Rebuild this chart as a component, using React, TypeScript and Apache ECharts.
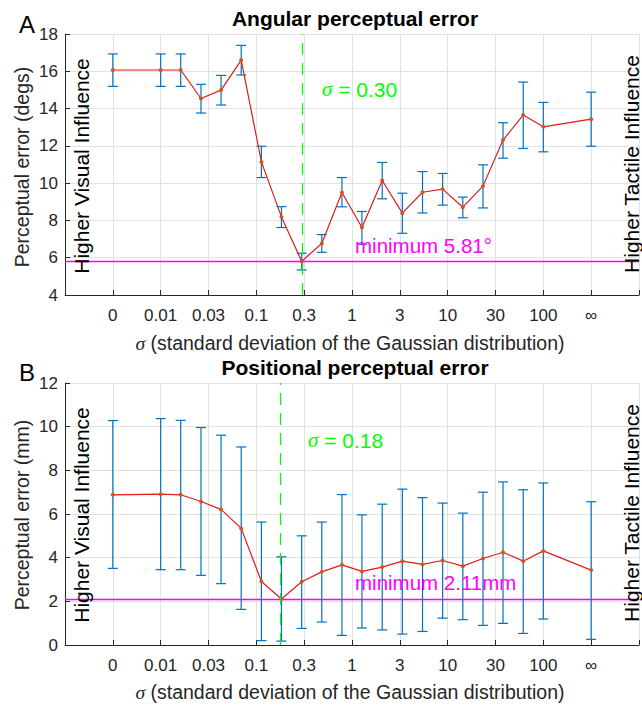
import React, { useEffect, useRef } from "react";
import * as echarts from "echarts";

// ---- data ----
const TICK_LABELS = ["0", "0.01", "0.03", "0.1", "0.3", "1", "3", "10", "30", "100", "∞"];
const SIGMAS = [0, 0.01, 0.0162, 0.0264, 0.0428, 0.0695, 0.113, 0.183, 0.298, 0.483, 0.785, 1.27, 2.07, 3.36, 5.46, 8.86, 14.4, 23.4, 37.9, 61.6, 100, Infinity];

const ANG_MEAN = [16.07, 16.07, 16.07, 14.54, 14.99, 16.6, 11.14, 8.19, 5.81, 6.76, 9.5, 7.62, 10.14, 8.39, 9.51, 9.68, 8.71, 9.84, 12.31, 13.65, 13.02, 13.43];
const ANG_HIGH = [16.93, 16.93, 16.93, 15.3, 15.78, 17.39, 11.98, 8.74, 6.24, 7.24, 10.3, 8.48, 11.11, 9.46, 10.62, 10.52, 9.25, 10.98, 13.24, 15.42, 14.33, 14.88];
const ANG_LOW = [15.19, 15.19, 15.19, 13.76, 14.19, 15.8, 10.3, 7.62, 5.34, 6.29, 8.73, 6.72, 9.16, 7.31, 8.4, 8.82, 8.14, 8.67, 11.34, 11.86, 11.68, 11.98];
const ANG_BEST_SIGMA = 0.3;
const ANG_MIN = 5.81;

const POS_MEAN = [6.88, 6.91, 6.88, 6.57, 6.21, 5.34, 2.91, 2.11, 2.9, 3.35, 3.67, 3.37, 3.57, 3.84, 3.69, 3.87, 3.61, 3.96, 4.25, 3.84, 4.31, 3.43];
const POS_HIGH = [10.28, 10.37, 10.29, 9.96, 9.61, 9.07, 5.63, 4.04, 5.0, 5.63, 6.89, 5.96, 6.45, 7.14, 6.75, 6.5, 6.04, 7.0, 7.47, 7.11, 7.42, 6.56];
const POS_LOW = [3.51, 3.45, 3.45, 3.19, 2.81, 1.63, 0.2, 0.18, 0.76, 1.05, 0.44, 0.78, 0.69, 0.5, 0.62, 1.23, 1.16, 0.9, 0.99, 0.53, 1.19, 0.26];
const POS_BEST_SIGMA = 0.18;
const POS_MIN = 2.11;

// sigma -> position on the tick-index axis (0, half-decades from 0.01 to 100, infinity)
const sigmaPos = (s: number) => (s === 0 ? 0 : !isFinite(s) ? 10 : 1 + 2 * (Math.log10(s) + 2));

const FONT = "Liberation Sans, Arial, Helvetica, sans-serif";
const AXIS_COLOR = "#262626";
const GRID_COLOR = "#e2e2e2";

function renderErrorBar(params: any, api: any) {
  const x = api.value(0);
  const lo = api.value(1);
  const hi = api.value(2);
  const pHi = api.coord([x, hi]);
  const pLo = api.coord([x, lo]);
  const w = 5;
  const style = { stroke: "#0072BD", lineWidth: 1.2 };
  return {
    type: "group",
    children: [
      { type: "line", shape: { x1: pHi[0], y1: pHi[1], x2: pLo[0], y2: pLo[1] }, style },
      { type: "line", shape: { x1: pHi[0] - w, y1: pHi[1], x2: pHi[0] + w, y2: pHi[1] }, style },
      { type: "line", shape: { x1: pLo[0] - w, y1: pLo[1], x2: pLo[0] + w, y2: pLo[1] }, style },
    ],
  };
}

function makeXAxis(gridIndex: number) {
  return {
    gridIndex,
    type: "value",
    min: -1,
    max: 11,
    interval: 1,
    axisLine: { show: true, onZero: false, lineStyle: { color: AXIS_COLOR, width: 1 } },
    axisTick: { show: true, inside: true, length: 5, lineStyle: { color: AXIS_COLOR } },
    axisLabel: {
      show: true,
      fontSize: 17,
      fontFamily: FONT,
      color: AXIS_COLOR,
      margin: 12,
      formatter: (v: number) => {
        const i = Math.round(v);
        return i >= 0 && i < TICK_LABELS.length ? TICK_LABELS[i] : "";
      },
    },
    splitLine: { show: true, lineStyle: { color: GRID_COLOR, width: 1 } },
  };
}

function makeYAxis(gridIndex: number, min: number, max: number) {
  return {
    gridIndex,
    type: "value",
    min,
    max,
    interval: 2,
    axisLine: { show: true, onZero: false, lineStyle: { color: AXIS_COLOR, width: 1 } },
    axisTick: { show: true, inside: true, length: 5, lineStyle: { color: AXIS_COLOR } },
    axisLabel: { fontSize: 17, fontFamily: FONT, color: AXIS_COLOR, margin: 7 },
    splitLine: { show: true, lineStyle: { color: GRID_COLOR, width: 1 } },
  };
}

function seriesFor(idx: number, mean: number[], low: number[], high: number[], best: number, minVal: number) {
  return [
    {
      type: "custom",
      xAxisIndex: idx,
      yAxisIndex: idx,
      renderItem: renderErrorBar,
      encode: { x: 0, y: [1, 2] },
      data: SIGMAS.map((s, i) => [sigmaPos(s), low[i], high[i]]),
      z: 2,
      silent: true,
      markLine: {
        silent: true,
        symbol: ["none", "none"],
        label: { show: false },
        lineStyle: { color: "#FF00FF", width: 1.3, type: "solid", opacity: 1 },
        data: [{ yAxis: minVal }],
      },
    },
    {
      type: "line",
      xAxisIndex: idx,
      yAxisIndex: idx,
      data: SIGMAS.map((s, i) => [sigmaPos(s), mean[i]]),
      symbol: "circle",
      symbolSize: 4,
      showSymbol: true,
      itemStyle: { color: "#D95319" },
      lineStyle: { color: "#DD1C1C", width: 1.2 },
      z: 4,
      markLine: {
        silent: true,
        symbol: ["none", "none"],
        label: { show: false },
        lineStyle: { color: "#00FF00", width: 1.2, type: [12, 8], opacity: 1 },
        data: [{ xAxis: sigmaPos(best) }],
      },
    },
  ];
}

function txt(text: string, x: number, y: number, size: number, color: string, opts: any = {}) {
  return {
    type: "text",
    x,
    y,
    rotation: opts.rotation || 0,
    z: 10,
    style: {
      text,
      fill: color,
      fontSize: size,
      fontFamily: FONT,
      fontWeight: opts.bold ? "bold" : "normal",
      align: opts.align || "center",
      verticalAlign: "middle",
      textAlign: opts.align || "center",
      textVerticalAlign: "middle",
      rich: opts.rich,
    },
  };
}

const sigmaRich = (size: number, color: string) => ({
  i: { fontStyle: "italic", fontFamily: "Liberation Serif, serif", fontSize: size, fill: color, color },
  n: { fontFamily: FONT, fontSize: size, fill: color, color },
});

export default function App() {
  const ref = useRef<HTMLDivElement>(null);
  useEffect(() => {
    if (!ref.current) return;
    const chart = echarts.init(ref.current, undefined, { renderer: "svg" });
    const xName = "{i|σ}{n| (standard deviation of the Gaussian distribution)}";
    chart.setOption({
      animation: false,
      backgroundColor: "#ffffff",
      grid: [
        { left: 65, top: 34, width: 580, height: 261 },
        { left: 65, top: 383, width: 580, height: 262 },
      ],
      xAxis: [makeXAxis(0), makeXAxis(1)],
      yAxis: [makeYAxis(0, 4, 18), makeYAxis(1, 0, 12)],
      series: [
        ...seriesFor(0, ANG_MEAN, ANG_LOW, ANG_HIGH, ANG_BEST_SIGMA, ANG_MIN),
        ...seriesFor(1, POS_MEAN, POS_LOW, POS_HIGH, POS_BEST_SIGMA, POS_MIN),
      ],
      graphic: [
        txt("A", 27, 24, 24, "#000"),
        txt("B", 27, 372, 24, "#000"),
        txt("Angular perceptual error", 355, 18, 21, "#000", { bold: true }),
        txt("Positional perceptual error", 355, 367, 21, "#000", { bold: true }),
        txt(xName, 350, 343, 19.5, AXIS_COLOR, { rich: sigmaRich(19.5, AXIS_COLOR) }),
        txt(xName, 350, 692, 19.5, AXIS_COLOR, { rich: sigmaRich(19.5, AXIS_COLOR) }),
        txt("Perceptual error (degs)", 22, 167, 19.5, AXIS_COLOR, { rotation: Math.PI / 2 }),
        txt("Perceptual error (mm)", 22, 515, 19.5, AXIS_COLOR, { rotation: Math.PI / 2 }),
        txt("Higher Visual Influence", 81.5, 166, 21, "#000", { rotation: Math.PI / 2 }),
        txt("Higher Visual Influence", 81.5, 515, 21, "#000", { rotation: Math.PI / 2 }),
        txt("Higher Tactile Influence", 631, 164, 21, "#000", { rotation: Math.PI / 2 }),
        txt("Higher Tactile Influence", 631, 513, 21, "#000", { rotation: Math.PI / 2 }),
        txt("{i|σ}{n| = 0.30}", 322, 89, 21, "#00FF00", { align: "left", rich: sigmaRich(21, "#00FF00") }),
        txt("{i|σ}{n| = 0.18}", 308, 440, 21, "#00FF00", { align: "left", rich: sigmaRich(21, "#00FF00") }),
        txt("minimum 5.81°", 355, 245, 20.5, "#FF00FF", { align: "left" }),
        txt("minimum 2.11mm", 355, 582, 20.5, "#FF00FF", { align: "left" }),
      ],
    });
    return () => chart.dispose();
  }, []);
  return (
    <div
      ref={ref}
      style={{ position: "fixed", left: 0, top: 0, width: 642, height: 705, background: "#fff" }}
    />
  );
}
